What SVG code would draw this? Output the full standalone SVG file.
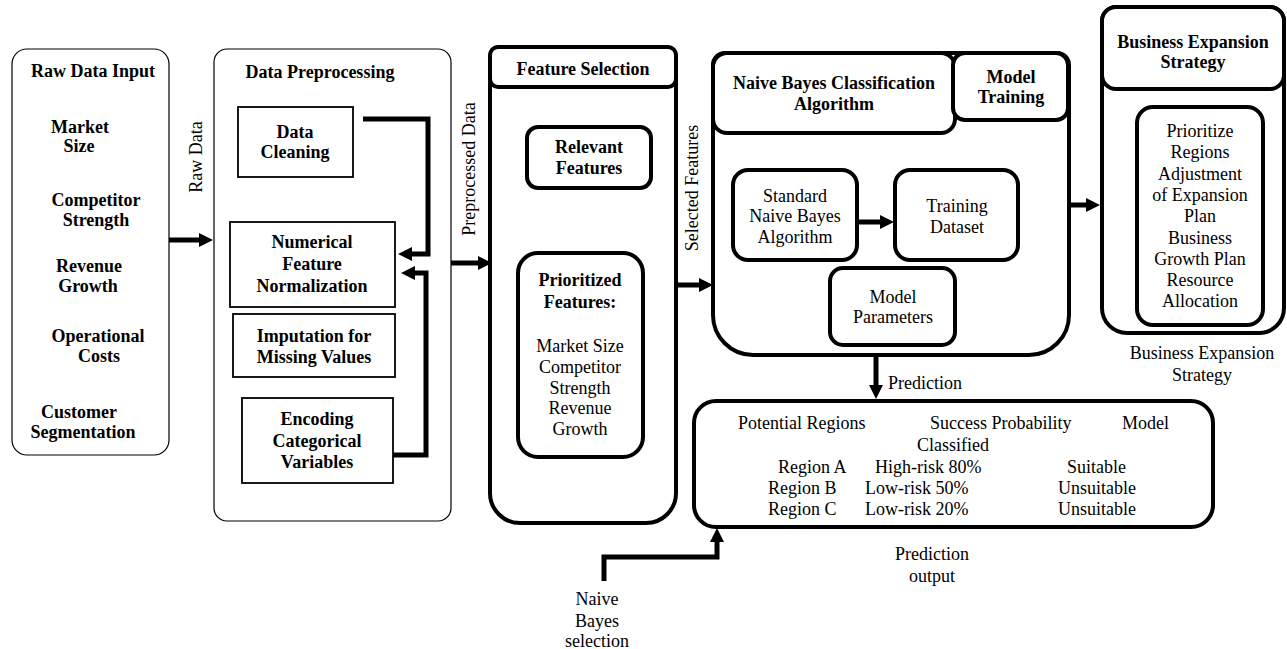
<svg xmlns="http://www.w3.org/2000/svg" width="1287" height="649" viewBox="0 0 1287 649" font-family="'Liberation Serif', Tinos, 'Nimbus Roman', 'Times New Roman', Times, 'DejaVu Serif', serif">
<style>
text{font-family:"Liberation Serif",Tinos,"Nimbus Roman","Times New Roman",Times,"DejaVu Serif",serif;font-size:18px;fill:#000}
.b{font-weight:bold}
.m{text-anchor:middle}
.thin{fill:#fff;stroke:#000;stroke-width:1.2}
.sq{fill:#fff;stroke:#000;stroke-width:1.8}
.thick{fill:#fff;stroke:#000;stroke-width:4}
.conn{fill:none;stroke:#000;stroke-width:5;stroke-linejoin:miter}
</style>
<defs>
<marker id="ah" markerUnits="userSpaceOnUse" markerWidth="14" markerHeight="14" refX="6" refY="7" orient="auto">
<path d="M0,0 L14,7 L0,14 z" fill="#000"/>
</marker>
</defs>
<rect width="1287" height="649" fill="#fff"/>

<g id="raw-data-input">
<rect class="thin" x="12" y="49" width="157" height="406" rx="15"/>
<text class="b m" x="93" y="77">Raw Data Input</text>
<text class="b m" x="80" y="133">Market</text>
<text class="b m" x="79" y="152">Size</text>
<text class="b m" x="96" y="206">Competitor</text>
<text class="b m" x="96" y="226">Strength</text>
<text class="b m" x="89" y="272">Revenue</text>
<text class="b m" x="88" y="292">Growth</text>
<text class="b m" x="98" y="342">Operational</text>
<text class="b m" x="99" y="362">Costs</text>
<text class="b m" x="79" y="418">Customer</text>
<text class="b m" x="83" y="438">Segmentation</text>
</g>

<g id="data-preprocessing">
<rect class="thin" x="214" y="49" width="237" height="472" rx="13"/>
<text class="b m" x="320" y="78">Data Preprocessing</text>
</g>
<g id="data-cleaning">
<rect class="sq" x="238" y="107" width="115" height="70"/>
<text class="b m" x="295" y="138">Data</text>
<text class="b m" x="295" y="158">Cleaning</text>
</g>
<g id="numerical-feature-normalization">
<rect class="sq" x="230" y="222" width="165" height="85"/>
<text class="b m" x="312" y="248">Numerical</text>
<text class="b m" x="312" y="270">Feature</text>
<text class="b m" x="312" y="292">Normalization</text>
</g>
<g id="imputation">
<rect class="sq" x="233" y="314" width="162" height="63"/>
<text class="b m" x="314" y="342">Imputation for</text>
<text class="b m" x="314" y="363">Missing Values</text>
</g>
<g id="encoding">
<rect class="sq" x="242" y="398" width="151" height="85"/>
<text class="b m" x="317" y="425">Encoding</text>
<text class="b m" x="317" y="447">Categorical</text>
<text class="b m" x="317" y="468">Variables</text>
</g>

<g id="feature-selection">
<path class="thick" d="M500,47 H666 A10,10 0 0 1 676,57 V493 A30,30 0 0 1 646,523 H520 A30,30 0 0 1 490,493 V57 A10,10 0 0 1 500,47 Z"/>
<rect class="thick" x="490" y="47" width="186" height="40" rx="8"/>
<text class="b m" x="583" y="75">Feature Selection</text>
</g>
<g id="relevant-features">
<rect class="thick" x="527" y="127" width="124" height="61" rx="11"/>
<text class="b m" x="589" y="153">Relevant</text>
<text class="b m" x="589" y="174">Features</text>
</g>
<g id="prioritized-features">
<rect class="thick" x="518" y="253" width="125" height="204" rx="20"/>
<text class="b m" x="580" y="286">Prioritized</text>
<text class="b m" x="580" y="308">Features:</text>
<text class="m" x="580" y="352">Market Size</text>
<text class="m" x="580" y="373">Competitor</text>
<text class="m" x="580" y="394">Strength</text>
<text class="m" x="580" y="414">Revenue</text>
<text class="m" x="580" y="435">Growth</text>
</g>

<g id="naive-bayes">
<path class="thick" d="M725,53 H1057 A12,12 0 0 1 1069,65 V315 A40,40 0 0 1 1029,355 H753 A40,40 0 0 1 713,315 V65 A12,12 0 0 1 725,53 Z"/>
<rect class="thick" x="713" y="53" width="242" height="80" rx="14"/>
<text class="b m" x="834" y="89">Naive Bayes Classification</text>
<text class="b m" x="834" y="110">Algorithm</text>
</g>
<g id="model-training">
<rect class="thick" x="953" y="53" width="115" height="67" rx="12"/>
<text class="b m" x="1011" y="83">Model</text>
<text class="b m" x="1011" y="103">Training</text>
</g>
<g id="standard-naive-bayes">
<rect class="thick" x="733" y="170" width="124" height="90" rx="15"/>
<text class="m" x="795" y="202">Standard</text>
<text class="m" x="795" y="222">Naive Bayes</text>
<text class="m" x="795" y="243">Algorithm</text>
</g>
<g id="training-dataset">
<rect class="thick" x="895" y="170" width="123" height="90" rx="15"/>
<text class="m" x="957" y="212">Training</text>
<text class="m" x="957" y="233">Dataset</text>
</g>
<g id="model-parameters">
<rect class="thick" x="830" y="268" width="125" height="77" rx="13"/>
<text class="m" x="893" y="303">Model</text>
<text class="m" x="893" y="323">Parameters</text>
</g>

<g id="business-expansion">
<path class="thick" d="M1116,7 H1270 A14,14 0 0 1 1284,21 V308 A25,25 0 0 1 1259,333 H1127 A25,25 0 0 1 1102,308 V21 A14,14 0 0 1 1116,7 Z"/>
<rect class="thick" x="1102" y="7" width="182" height="82" rx="14"/>
<text class="b m" x="1193" y="48">Business Expansion</text>
<text class="b m" x="1193" y="68">Strategy</text>
</g>
<g id="business-details">
<rect class="thick" x="1137" y="107" width="126" height="218" rx="16"/>
<text class="m" x="1200" y="137">Prioritize</text>
<text class="m" x="1200" y="158">Regions</text>
<text class="m" x="1200" y="180">Adjustment</text>
<text class="m" x="1200" y="201">of Expansion</text>
<text class="m" x="1200" y="222">Plan</text>
<text class="m" x="1200" y="244">Business</text>
<text class="m" x="1200" y="265">Growth Plan</text>
<text class="m" x="1200" y="286">Resource</text>
<text class="m" x="1200" y="307">Allocation</text>
</g>
<g id="business-label">
<text class="m" x="1202" y="359">Business Expansion</text>
<text class="m" x="1202" y="381">Strategy</text>
</g>

<g id="prediction-output">
<rect class="thick" x="694" y="401" width="519" height="126" rx="22"/>
<text x="738" y="429">Potential Regions</text>
<text x="930" y="429">Success Probability</text>
<text x="1122" y="429">Model</text>
<text x="917" y="451">Classified</text>
<text x="778" y="473">Region A</text>
<text x="875" y="473">High-risk 80%</text>
<text x="1067" y="473">Suitable</text>
<text x="768" y="494">Region B</text>
<text x="865" y="494">Low-risk 50%</text>
<text x="1058" y="494">Unsuitable</text>
<text x="768" y="515">Region C</text>
<text x="865" y="515">Low-risk 20%</text>
<text x="1058" y="515">Unsuitable</text>
<text class="m" x="932" y="560">Prediction</text>
<text class="m" x="932" y="582">output</text>
</g>

<g id="naive-bayes-selection">
<text class="m" x="597" y="605">Naive</text>
<text class="m" x="597" y="627">Bayes</text>
<text class="m" x="597" y="647">selection</text>
</g>

<g id="connectors">
<line class="conn" x1="169" y1="240" x2="205" y2="240" marker-end="url(#ah)"/>
<text class="m" transform="translate(202,157) rotate(-90)">Raw Data</text>
<polyline class="conn" points="363,119 428,119 428,254 406,254" marker-end="url(#ah)"/>
<polyline class="conn" points="393,455 426,455 426,273 409,273" marker-end="url(#ah)"/>
<line class="conn" x1="451" y1="263" x2="484" y2="263" marker-end="url(#ah)"/>
<text class="m" transform="translate(475,169) rotate(-90)">Preprocessed Data</text>
<line class="conn" x1="676" y1="285" x2="705" y2="285" marker-end="url(#ah)"/>
<text class="m" transform="translate(698,188) rotate(-90)">Selected Features</text>
<line class="conn" x1="857" y1="222" x2="886" y2="222" marker-end="url(#ah)"/>
<line class="conn" x1="1069" y1="205" x2="1092" y2="205" marker-end="url(#ah)"/>
<line class="conn" x1="876" y1="355" x2="876" y2="391" marker-end="url(#ah)"/>
<text x="888" y="389">Prediction</text>
<polyline class="conn" points="604,581 604,557 717,557 717,536" marker-end="url(#ah)"/>
</g>
</svg>
